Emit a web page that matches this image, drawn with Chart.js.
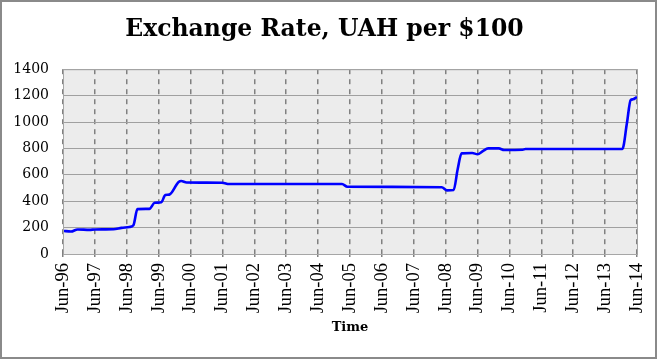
<!DOCTYPE html>
<html>
<head>
<meta charset="utf-8">
<script src="https://cdn.jsdelivr.net/npm/chart.js@4.4.1/dist/chart.umd.min.js"></script>
<style>
  html, body { margin: 0; padding: 0; background: #fff; }
  #wrap { width: 657px; height: 359px; }
</style>
</head>
<body>
<div id="wrap"><canvas id="chart" width="657" height="359"></canvas></div>
<script>
// months counted from Jun-96 (0) to Jun-14 (216)
const months = [0, 3, 5.5, 10, 12, 19, 22, 25, 26.5, 28, 32.5, 34.5, 37, 38.5, 40, 43.5, 44.5, 46.5,
    60, 62.5, 105, 107, 142.5, 144.5, 147, 148.5, 150, 154, 156, 158, 160, 164, 166, 173, 174,
    210.5, 212.2, 213.6, 214.5, 216];
const rates = [176, 170, 186, 183, 186, 188, 198, 205, 218, 340, 342, 388, 392, 447, 450, 545, 553, 542,
    540, 530, 530, 510, 506, 482, 485, 640, 762, 765, 756, 780, 800, 800, 788, 790, 796,
    796, 990, 1166, 1172, 1190];
const yearLabels = ['Jun-96', 'Jun-97', 'Jun-98', 'Jun-99', 'Jun-00', 'Jun-01', 'Jun-02', 'Jun-03',
    'Jun-04', 'Jun-05', 'Jun-06', 'Jun-07', 'Jun-08', 'Jun-09', 'Jun-10', 'Jun-11', 'Jun-12',
    'Jun-13', 'Jun-14'];

const points = months.map((m, i) => ({ x: m, y: rates[i] }));

// plot background, plot frame and outer chart frame
const frames = {
    id: 'frames',
    beforeDraw(chart) {
        const { ctx, chartArea: a } = chart;
        ctx.save();
        ctx.fillStyle = '#ececec';
        ctx.fillRect(a.left, a.top, a.right - a.left, a.bottom - a.top);
        ctx.restore();
    },
    afterDraw(chart) {
        const { ctx, chartArea: a } = chart;
        ctx.save();
        ctx.strokeStyle = '#a6a6a6';
        ctx.lineWidth = 1;
        ctx.strokeRect(a.left + 0.5, a.top + 0.5, a.right - a.left, a.bottom - a.top);
        ctx.strokeStyle = '#8a8a8a';
        ctx.lineWidth = 2;
        ctx.strokeRect(1, 1, chart.width - 2, chart.height - 2);
        ctx.restore();
    }
};

new Chart(document.getElementById('chart'), {
    type: 'line',
    data: {
        datasets: [{
            data: points,
            borderColor: '#0000ff',
            borderWidth: 2.6,
            pointRadius: 0,
            cubicInterpolationMode: 'monotone',
            fill: false
        }]
    },
    options: {
        responsive: false,
        animation: false,
        layout: { padding: { left: 12, right: 20, top: 0, bottom: 0 } },
        plugins: {
            legend: { display: false },
            tooltip: { enabled: false },
            title: {
                display: true,
                text: 'Exchange Rate, UAH per $100',
                color: '#000',
                font: { family: 'DejaVu Serif', weight: 'bold', size: 23.5, lineHeight: 1.2 },
                padding: { top: 16, bottom: 25 }
            }
        },
        scales: {
            x: {
                type: 'linear',
                min: 0,
                max: 216,
                ticks: {
                    stepSize: 12,
                    autoSkip: false,
                    minRotation: 90,
                    maxRotation: 90,
                    padding: 6,
                    color: '#000',
                    font: { family: 'Liberation Serif', size: 18.5 },
                    callback: (v) => yearLabels[Math.round(v / 12)]
                },
                grid: {
                    color: '#808080',
                    lineWidth: 1.5,
                    tickLength: 3,
                    tickColor: '#808080'
                },
                border: { display: false, dash: [5, 5] },
                title: {
                    display: true,
                    text: 'Time',
                    color: '#000',
                    font: { family: 'DejaVu Serif', weight: 'bold', size: 13, lineHeight: 1.2 },
                    padding: { top: 0, bottom: 24 }
                },
                afterFit: (s) => {
                    s.height = 105;
                    s.paddingLeft = 0;
                    s.paddingRight = 0;
                }
            },
            y: {
                min: 0,
                max: 1400,
                ticks: {
                    stepSize: 200,
                    padding: 14,
                    color: '#000',
                    font: { family: 'DejaVu Serif', size: 14 },
                    callback: (v) => String(v)
                },
                grid: { color: '#a0a0a0', lineWidth: 1, drawTicks: false },
                border: { display: false },
                afterFit: (s) => { s.width = 51; }
            }
        }
    },
    plugins: [frames]
});
</script>
</body>
</html>
